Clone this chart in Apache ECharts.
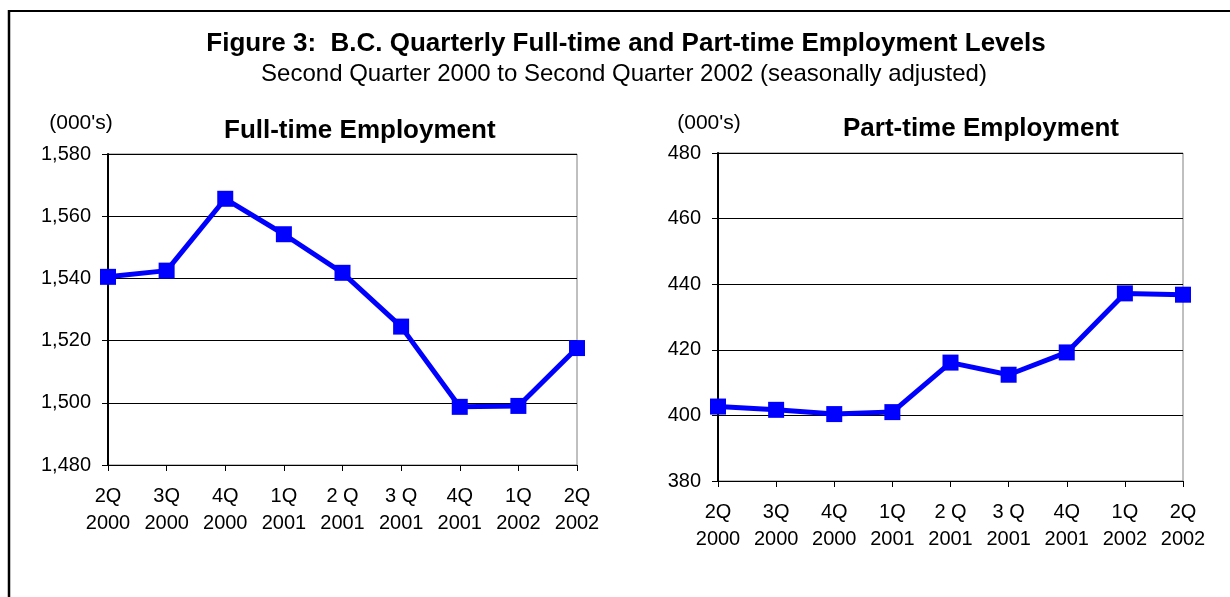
<!DOCTYPE html>
<html>
<head>
<meta charset="utf-8">
<script src="https://cdn.jsdelivr.net/npm/echarts@6/dist/echarts.min.js"></script>
<style>
html,body{margin:0;padding:0;background:#fff;}
#c{width:1230px;height:597px;}
</style>
</head>
<body>
<div id="c"></div>
<script>
const categories = ['2Q\n2000','3Q\n2000','4Q\n2000','1Q\n2001','2 Q\n2001','3 Q\n2001','4Q\n2001','1Q\n2002','2Q\n2002'];
const fullTime = [1540.5, 1542.5, 1565.6, 1554.2, 1541.8, 1524.5, 1498.7, 1499.0, 1517.6];
const partTime = [402.7, 401.7, 400.4, 401.0, 416.1, 412.4, 419.2, 437.2, 436.8];
const fullTicks = {min: 1480, max: 1580, interval: 20};
const partTicks = {min: 380, max: 480, interval: 20};

const FONT = "'Liberation Sans', Arial, sans-serif";
const chart = echarts.init(document.getElementById('c'), null, {renderer: 'canvas'});

function xAxis(gi){
  return {
    type: 'category', gridIndex: gi, data: categories, boundaryGap: false,
    axisLine: {show: true, lineStyle: {color: '#000', width: 1}},
    axisTick: {show: true, length: 6, lineStyle: {color: '#000'}},
    axisLabel: {color: '#000', fontFamily: FONT, fontSize: 20, lineHeight: 27, margin: 18, interval: 0},
    splitLine: {show: false}
  };
}
function yAxis(gi, t, fmt){
  return {
    type: 'value', gridIndex: gi, min: t.min, max: t.max, interval: t.interval,
    axisLine: {show: true, lineStyle: {color: '#000', width: 2}},
    axisTick: {show: true, length: 6, lineStyle: {color: '#000'}},
    axisLabel: {color: '#000', fontFamily: FONT, fontSize: 20, margin: 17, formatter: fmt},
    splitLine: {show: true, lineStyle: {color: '#000', width: 1}}
  };
}
function series(gi, data){
  return {
    type: 'line', xAxisIndex: gi, yAxisIndex: gi, data: data,
    symbol: 'rect', symbolSize: 16, clip: false,
    lineStyle: {color: '#0000FF', width: 5},
    itemStyle: {color: '#0000FF'},
    emphasis: {disabled: true}
  };
}
function txt(x, y, text, size, weight, align){
  return {type: 'text', x: x, y: y, silent: true,
    style: {text: text, fill: '#000', font: weight + ' ' + size + 'px ' + FONT,
      textAlign: align || 'center', textVerticalAlign: 'middle'}};
}

chart.setOption({
  animation: false,
  grid: [
    {left: 108, top: 154, width: 469, height: 311, show: true, borderColor: '#808080', borderWidth: 1, containLabel: false},
    {left: 718, top: 153, width: 465, height: 328, show: true, borderColor: '#808080', borderWidth: 1, containLabel: false}
  ],
  xAxis: [xAxis(0), xAxis(1)],
  yAxis: [
    yAxis(0, fullTicks, v => v.toLocaleString('en-US')),
    yAxis(1, partTicks, v => String(v))
  ],
  series: [series(0, fullTime), series(1, partTime)],
  graphic: [
    {type: 'line', silent: true, shape: {x1: 9, y1: 11, x2: 1230, y2: 11}, style: {stroke: '#000', lineWidth: 2}},
    {type: 'line', silent: true, shape: {x1: 9, y1: 10, x2: 9, y2: 597}, style: {stroke: '#000', lineWidth: 2.5}},
    txt(626, 44, 'Figure 3:  B.C. Quarterly Full-time and Part-time Employment Levels', 26, 'bold'),
    txt(624, 74, 'Second Quarter 2000 to Second Quarter 2002 (seasonally adjusted)', 24, 'normal'),
    txt(81, 123, "(000's)", 21, 'normal'),
    txt(709, 123, "(000's)", 21, 'normal'),
    txt(224, 131, 'Full-time Employment', 26, 'bold', 'left'),
    txt(843, 129, 'Part-time Employment', 26, 'bold', 'left')
  ]
});
</script>
</body>
</html>
